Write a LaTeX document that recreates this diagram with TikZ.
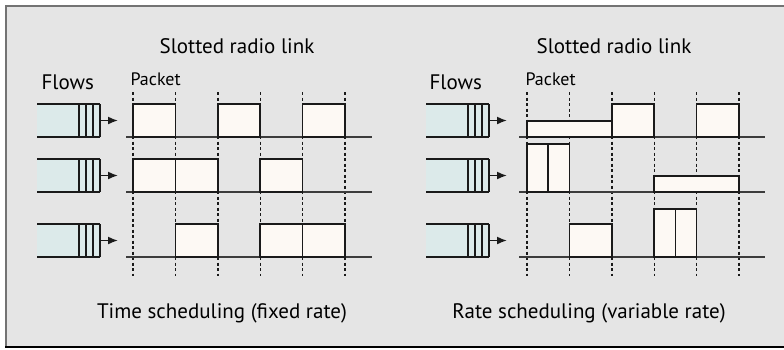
\documentclass[tikz,border=0pt]{standalone}
\usepackage{fontspec}
\setmainfont{PT Sans}
\usetikzlibrary{arrows.meta}
\definecolor{panelgray}{HTML}{E5E5E5}
\definecolor{queuefill}{HTML}{DCEAEA}
\definecolor{pktfill}{HTML}{FDF9F4}
\definecolor{inkline}{HTML}{1A1A1A}
\tikzset{
  pkt/.style={draw=inkline, fill=pktfill, line width=1.7pt},
  slotline/.style={inkline, line width=1.4pt, dash pattern=on 3pt off 2.5pt},
  linkline/.style={draw=inkline!85, line width=1.8pt},
  qline/.style={draw=inkline, line width=1.7pt},
  flowarrow/.style={inkline, line width=1.6pt, -{Latex[length=10pt,width=8pt]}},
  bigtext/.style={font=\fontsize{21}{24}\selectfont, anchor=base},
  smalltext/.style={font=\fontsize{18}{20}\selectfont, anchor=base west},
}

\begin{document}
\begin{tikzpicture}[x=1pt,y=-1pt]
\useasboundingbox (0,0) rectangle (784,349);
% frame
\fill[panelgray] (5,5) rectangle (790,347);
\draw[gray!110, line width=2pt] (792,6) -- (6,6) -- (6,347);
\draw[black, line width=1.8pt] (5,347) -- (792,347);

\pgfmathsetmacro{\slotw}{42.4}
\pgfmathsetmacro{\pkth}{33}

% ---- left: time scheduling ----
\node[bigtext] (titleL) at (237,53) {Slotted radio link};
\node[bigtext, anchor=base west] (flowsL) at (38,89) {Flows};
\node[smalltext] (packetL) at (127,85) {Packet};
\foreach \i in {0,...,5}
  \draw[slotline] (133+\i*\slotw,92) -- (133+\i*\slotw,276);
\foreach \y in {137,192,257}{
  \draw[linkline] (126,\y) -- (372,\y);
  % queue
  \fill[queuefill] (37,\y-\pkth) rectangle (100,\y);
  \draw[qline] (37,\y-\pkth) -- (100,\y-\pkth) (37,\y) -- (100,\y);
  \foreach \q in {79,86,93,100}
    \draw[qline] (\q,\y-\pkth) -- (\q,\y);
  \coordinate (qoutL\y) at (100,\y-16.5);
  \coordinate (linkinL\y) at (118,\y-16.5);
  \draw[flowarrow] (qoutL\y) -- (linkinL\y);
}
% packets, one per slot
\foreach \s/\y in {0/137,2/137,4/137, 0/192,1/192,3/192, 1/257,3/257,4/257}
  \draw[pkt] (133+\s*\slotw,\y-\pkth) rectangle (133+\s*\slotw+\slotw,\y);
\node[bigtext] (captionL) at (222,318) {Time scheduling (fixed rate)};

% ---- right: rate scheduling ----
\node[bigtext] (titleR) at (614,53) {Slotted radio link};
\node[bigtext, anchor=base west] (flowsR) at (426,89) {Flows};
\node[smalltext] (packetR) at (522,85) {Packet};
\foreach \i in {0,...,5}
  \draw[slotline] (527+\i*\slotw,92) -- (527+\i*\slotw,276);
\foreach \y in {137,192,257}{
  \draw[linkline] (519,\y) -- (765,\y);
  \fill[queuefill] (426,\y-\pkth) rectangle (489,\y);
  \draw[qline] (426,\y-\pkth) -- (489,\y-\pkth) (426,\y) -- (489,\y);
  \foreach \q in {468,475,482,489}
    \draw[qline] (\q,\y-\pkth) -- (\q,\y);
  \coordinate (qoutR\y) at (489,\y-16.5);
  \coordinate (linkinR\y) at (507,\y-16.5);
  \draw[flowarrow] (qoutR\y) -- (linkinR\y);
}
% row 1: low rate over two slots, then full slots
\draw[pkt] (527,121) rectangle (527+2*\slotw,137);
\draw[pkt] (527+2*\slotw,104) rectangle (527+3*\slotw,137);
\draw[pkt] (527+4*\slotw,104) rectangle (527+5*\slotw,137);
% row 2: high rate in one slot, low rate over two slots
\draw[pkt] (527,144) rectangle (527+0.5*\slotw,192);
\draw[pkt] (527+0.5*\slotw,144) rectangle (527+\slotw,192);
\draw[pkt] (527+3*\slotw,176) rectangle (527+5*\slotw,192);
% row 3
\draw[pkt] (527+\slotw,224) rectangle (527+2*\slotw,257);
\draw[pkt] (527+3*\slotw,209) rectangle (527+3.5*\slotw,257);
\draw[pkt] (527+3.5*\slotw,209) rectangle (527+4*\slotw,257);
\node[bigtext] (captionR) at (589,318) {Rate scheduling (variable rate)};
\end{tikzpicture}
\end{document}
